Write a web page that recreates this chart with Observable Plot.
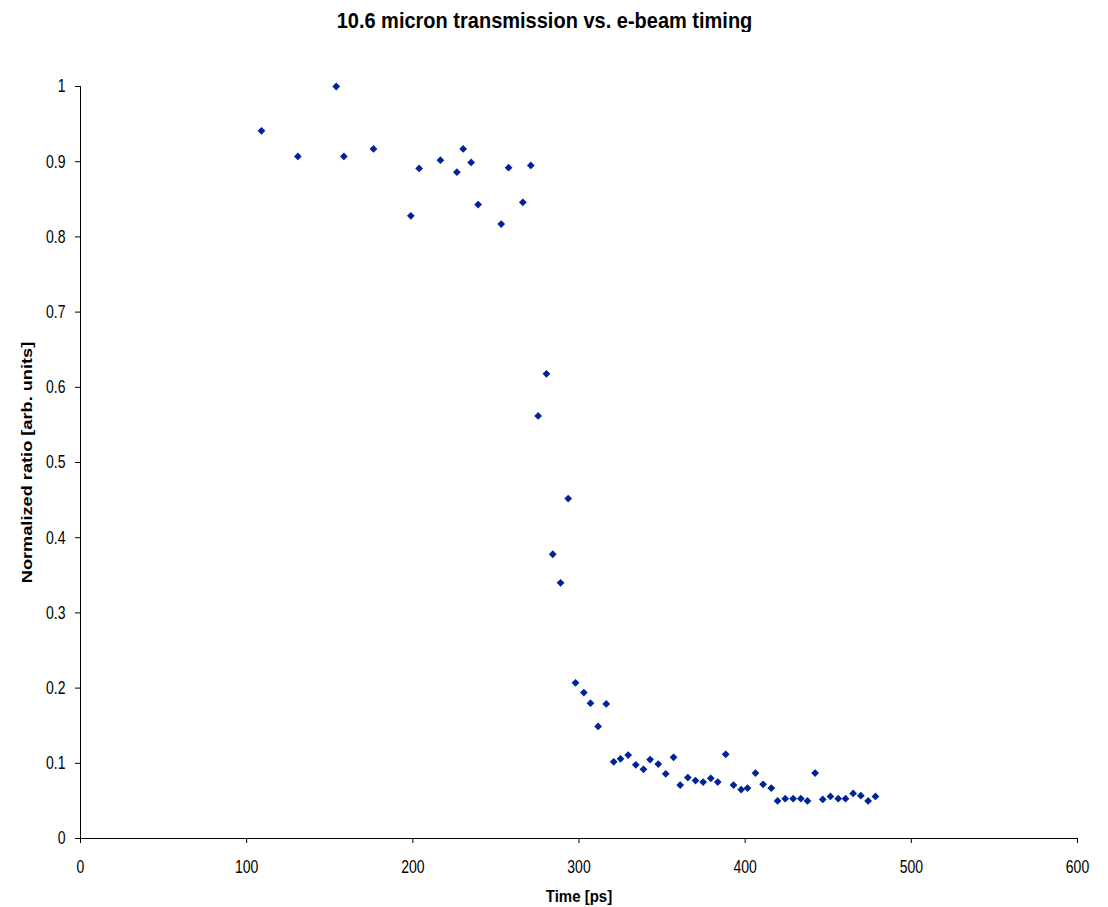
<!DOCTYPE html>
<html>
<head>
<meta charset="utf-8">
<script src="https://cdn.jsdelivr.net/npm/d3@7"></script>
<script src="https://cdn.jsdelivr.net/npm/@observablehq/plot@0.6"></script>
<style>
  html, body { margin: 0; padding: 0; background: #fff; overflow: hidden; }
  #title { position: relative; height: 46px; width: 1108px; font-family: "Liberation Sans", Arial, sans-serif; }
  #title span { position: absolute; left: 0; width: 1089px; text-align: center; top: 10px; font-size: 20px; font-weight: bold; line-height: 20px; color: #000; transform: scaleY(1.08); }
  #chart svg { display: block; }
</style>
</head>
<body>
<div id="title"><span id="titleText"></span></div>
<div id="chart"></div>
<script>
const chartTitle = "10.6 micron transmission vs. e-beam timing";
const xLabel = "Time [ps]";
const yLabel = "Normalized ratio [arb. units]";

const timePs = [
  108.9, 130.8, 153.9, 158.5, 176.3, 198.8, 203.8, 216.6, 226.5, 230.3, 235.1, 239.3, 253.2, 257.6, 266.2, 271.0,
  275.4, 280.4, 284.2, 288.9, 293.5, 297.9, 302.9, 306.9, 311.5, 316.4,
  320.9, 325.0, 329.6, 334.2, 338.8, 342.8, 347.7, 352.2, 356.9, 360.9, 365.5, 370.1, 374.7, 379.3, 383.5, 388.3,
  393.0, 397.6, 401.4, 406.2, 410.8, 415.7, 419.5, 424.1, 428.9, 433.5, 437.5, 442.1, 446.7, 451.3, 456.0, 460.4,
  465.0, 469.6, 474.0, 478.4
];
const ratio = [
  0.941, 0.907, 1.000, 0.907, 0.917, 0.828, 0.891, 0.902, 0.886, 0.917, 0.899, 0.843, 0.817, 0.892, 0.846, 0.895,
  0.562, 0.618, 0.378, 0.340, 0.452, 0.207, 0.194, 0.180, 0.149, 0.179,
  0.102, 0.106, 0.111, 0.098, 0.092, 0.105, 0.099, 0.086, 0.108, 0.071, 0.081, 0.077, 0.075, 0.080, 0.075, 0.112,
  0.071, 0.065, 0.067, 0.087, 0.072, 0.067, 0.050, 0.053, 0.053, 0.053, 0.050, 0.087, 0.052, 0.056, 0.053, 0.053,
  0.060, 0.057, 0.050, 0.056
];
const xTicks = [0, 100, 200, 300, 400, 500, 600];
const yTicks = [0, 0.1, 0.2, 0.3, 0.4, 0.5, 0.6, 0.7, 0.8, 0.9, 1];

document.getElementById("titleText").textContent = chartTitle;

const data = timePs.map((t, i) => ({t, r: ratio[i]}));
const font = '"Liberation Sans", Arial, sans-serif';

const plot = Plot.plot({
  width: 1108,
  height: 861,
  marginTop: 40,
  marginBottom: 69,
  marginLeft: 80,
  marginRight: 31,
  style: {fontFamily: font, fontSize: "14px", background: "#fff", color: "#000"},
  x: {domain: [0, 600]},
  y: {domain: [0, 1]},
  marks: [
    Plot.ruleY([0], {stroke: "#000", strokeWidth: 1}),
    Plot.ruleX([0], {stroke: "#000", strokeWidth: 1}),
    Plot.axisX({ticks: xTicks, tickSize: 5, tickPadding: 17, tickFormat: d => String(d), label: null, fontSize: 14}),
    Plot.axisY({ticks: yTicks, tickSize: 5, tickPadding: 10, tickFormat: d => String(d), label: null, fontSize: 14}),
    Plot.dot(data, {x: "t", y: "r", symbol: "diamond2", r: 3.5, fill: "#00239a", stroke: "none"}),
    Plot.text([xLabel], {frameAnchor: "bottom", dy: 57.5, text: d => d, fontWeight: "bold", fontSize: 15, lineAnchor: "middle", textAnchor: "middle", fill: "#000"}),
    Plot.text([yLabel], {frameAnchor: "left", dx: -53, rotate: -90, text: d => d, fontWeight: "bold", fontSize: 14, lineAnchor: "middle", textAnchor: "middle", fill: "#000"})
  ]
});

// stretch text vertically, as in the reference rendering
const num = v => (v == null || /em$/.test(v)) ? 0 : (parseFloat(v) || 0);
plot.querySelectorAll("text").forEach(el => {
  const tr = el.getAttribute("transform") || "";
  const x = num(el.getAttribute("x")), y = num(el.getAttribute("y"));
  const rotated = /rotate/.test(tr);
  const k = el.textContent === xLabel ? 1.15 : 1.3;
  const s = rotated ? `scale(${k},1)` : `scale(1,${k})`;
  el.setAttribute("transform", `${tr} translate(${x},${y}) ${s} translate(${-x},${-y})`);
});

document.getElementById("chart").appendChild(plot);
</script>
</body>
</html>
